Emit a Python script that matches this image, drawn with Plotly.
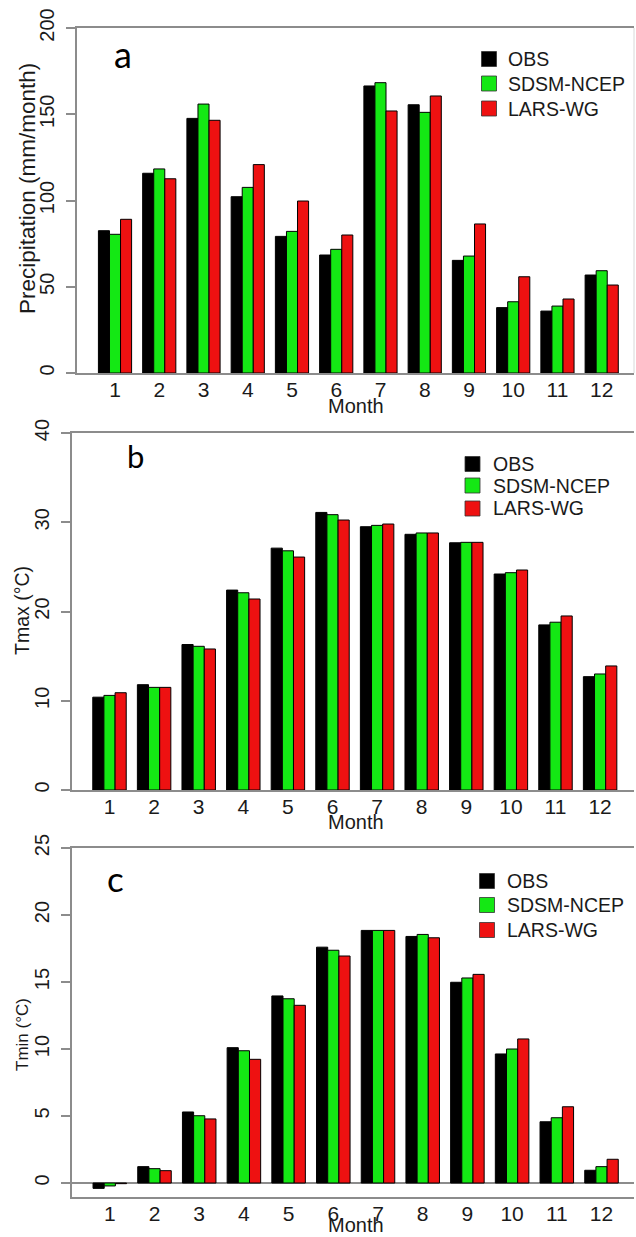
import plotly.graph_objects as go

W, H = 636, 1237

months = list(range(1, 13))
month_labels = [str(m) for m in months]
series_names = ["OBS", "SDSM-NCEP", "LARS-WG"]
series_colors = ["#000000", "#14e814", "#ee1111"]

# (a) monthly precipitation, mm/month
precip_obs = [82.5, 115.8, 147.6, 102.2, 79.2, 68.4, 166.4, 155.5, 65.3, 37.9, 35.9, 56.8]
precip_sdsm = [80.4, 118.3, 155.9, 107.6, 82.1, 71.7, 168.3, 151.1, 67.8, 41.3, 38.8, 59.3]
precip_lars = [89.1, 112.6, 146.5, 120.8, 99.7, 80.0, 151.9, 160.6, 86.4, 55.8, 42.9, 51.0]

# (b) monthly maximum temperature, °C
tmax_obs = [10.4, 11.8, 16.3, 22.4, 27.1, 31.1, 29.5, 28.65, 27.7, 24.2, 18.5, 12.7]
tmax_sdsm = [10.6, 11.5, 16.1, 22.1, 26.8, 30.85, 29.65, 28.8, 27.75, 24.35, 18.8, 13.0]
tmax_lars = [10.9, 11.5, 15.8, 21.4, 26.1, 30.25, 29.8, 28.8, 27.75, 24.65, 19.5, 13.9]

# (c) monthly minimum temperature, °C
tmin_obs = [-0.4, 1.22, 5.3, 10.1, 13.96, 17.6, 18.85, 18.4, 14.98, 9.63, 4.57, 0.95]
tmin_sdsm = [-0.22, 1.07, 5.02, 9.87, 13.75, 17.37, 18.85, 18.55, 15.3, 10.0, 4.87, 1.22]
tmin_lars = [-0.05, 0.92, 4.78, 9.23, 13.26, 16.94, 18.85, 18.3, 15.57, 10.75, 5.69, 1.77]

y_ticks_a = [0, 50, 100, 150, 200]
y_ticks_b = [0, 10, 20, 30, 40]
y_ticks_c = [0, 5, 10, 15, 20, 25]

AXIS_GREY = "#8c8c8c"
TEXT = "#1a1a1a"
FONT = "Liberation Sans, Arial, sans-serif"
LETTER_FONT = "Lato, Open Sans, sans-serif"


def fx(p):
    return p / W


def fy(p):
    return 1 - p / H


panels = [
    dict(series=[precip_obs, precip_sdsm, precip_lars],
         xpx=(77, 634), xrange=(0.141, 12.73),
         ypx=(28, 373), yrange=(0, 200), yticks=y_ticks_a, zero=False,
         ytitle="Precipitation (mm/month)", ytitle_xy=(27, 189), ytitle_size=22.5,
         letter="a", letter_xy=(123, 54), letter_size=36,
         legend_sq_x=489, legend_text_x=506, legend_rows=(59, 83.5, 108.5),
         month_y=406),
    dict(series=[tmax_obs, tmax_sdsm, tmax_lars],
         xpx=(72, 634), xrange=(0.1592, 12.76),
         ypx=(433, 790), yrange=(0, 40), yticks=y_ticks_b, zero=False,
         ytitle="Tmax (°C)", ytitle_xy=(22, 611), ytitle_size=19.5,
         letter="b", letter_xy=(135, 456), letter_size=31,
         legend_sq_x=472.5, legend_text_x=491, legend_rows=(464, 485.5, 508.5),
         month_y=822),
    dict(series=[tmin_obs, tmin_sdsm, tmin_lars],
         xpx=(72, 634), xrange=(0.1544, 12.727),
         ypx=(848, 1197), yrange=(-1.045, 25), yticks=y_ticks_c, zero=True,
         ytitle="Tmin (°C)", ytitle_xy=(22, 1035), ytitle_size=17,
         letter="c", letter_xy=(116, 878), letter_size=35,
         legend_sq_x=487, legend_text_x=505, legend_rows=(881, 905, 930),
         month_y=1225),
]

fig = go.Figure()
layout = dict(
    width=W, height=H, autosize=False,
    margin=dict(l=0, r=0, t=0, b=0, pad=0, autoexpand=False),
    paper_bgcolor="white", plot_bgcolor="white",
    barmode="group", bargap=0.25, bargroupgap=0.0,
    showlegend=False,
    font=dict(family=FONT, color=TEXT),
)
annotations = []
shapes = []

for i, p in enumerate(panels, start=1):
    sfx = "" if i == 1 else str(i)
    for name, color, values in zip(series_names, series_colors, p["series"]):
        fig.add_trace(go.Bar(
            x=months, y=values, name=name,
            marker=dict(color=color, line=dict(color="#000000", width=1)),
            xaxis="x" + sfx, yaxis="y" + sfx,
        ))

    layout["xaxis" + sfx] = dict(
        domain=[fx(p["xpx"][0]), fx(p["xpx"][1])], range=list(p["xrange"]),
        anchor="y" + sfx, tickmode="array", tickvals=months, ticktext=month_labels,
        ticks="", showline=True, linecolor=AXIS_GREY, linewidth=1.5, mirror=True,
        showgrid=False, zeroline=False, fixedrange=True, automargin=False,
        tickfont=dict(family=FONT, size=21, color=TEXT), ticklabelstandoff=-3,
    )
    layout["yaxis" + sfx] = dict(
        domain=[fy(p["ypx"][1]), fy(p["ypx"][0])], range=list(p["yrange"]),
        anchor="x" + sfx, tickmode="array", tickvals=p["yticks"],
        tickangle=-90, ticks="outside", ticklen=9, tickwidth=1.5, tickcolor=AXIS_GREY,
        showline=True, linecolor=AXIS_GREY, linewidth=1.5, mirror=False,
        showgrid=False, zeroline=p["zero"], zerolinecolor=AXIS_GREY, zerolinewidth=1.5,
        fixedrange=True, automargin=False,
        tickfont=dict(family=FONT, size=20, color=TEXT), ticklabelstandoff=4,
    )

    # axis titles
    annotations.append(dict(
        text=p["ytitle"], textangle=-90, showarrow=False,
        xref="paper", yref="paper",
        x=fx(p["ytitle_xy"][0]), y=fy(p["ytitle_xy"][1]),
        xanchor="center", yanchor="middle",
        font=dict(family=FONT, size=p["ytitle_size"], color=TEXT),
    ))
    annotations.append(dict(
        text="Month", showarrow=False, xref="paper", yref="paper",
        x=fx(356), y=fy(p["month_y"]), xanchor="center", yanchor="middle",
        font=dict(family=FONT, size=20, color=TEXT),
    ))
    # panel letter
    annotations.append(dict(
        text=p["letter"], showarrow=False, xref="paper", yref="paper",
        x=fx(p["letter_xy"][0]), y=fy(p["letter_xy"][1]),
        xanchor="center", yanchor="middle",
        font=dict(family=LETTER_FONT, size=p["letter_size"], color="#000000"),
    ))
    # legend keys and labels
    for name, color, row in zip(series_names, series_colors, p["legend_rows"]):
        half = 7.5
        shapes.append(dict(
            type="rect", xref="paper", yref="paper",
            x0=fx(p["legend_sq_x"] - half), x1=fx(p["legend_sq_x"] + half),
            y0=fy(row + half), y1=fy(row - half),
            fillcolor=color, line=dict(color="#333333", width=0.8),
        ))
        annotations.append(dict(
            text=name, showarrow=False, xref="paper", yref="paper",
            x=fx(p["legend_text_x"]), y=fy(row), xanchor="left", yanchor="middle",
            font=dict(family=FONT, size=19.5, color=TEXT),
        ))

# faint right border of panel (a)
shapes.append(dict(type="line", xref="paper", yref="paper",
                   x0=fx(634), x1=fx(634), y0=fy(373), y1=fy(28),
                   line=dict(color="#d8d8d8", width=1)))

layout["annotations"] = annotations
layout["shapes"] = shapes
fig.update_layout(**layout)
fig.write_html("out.html")
